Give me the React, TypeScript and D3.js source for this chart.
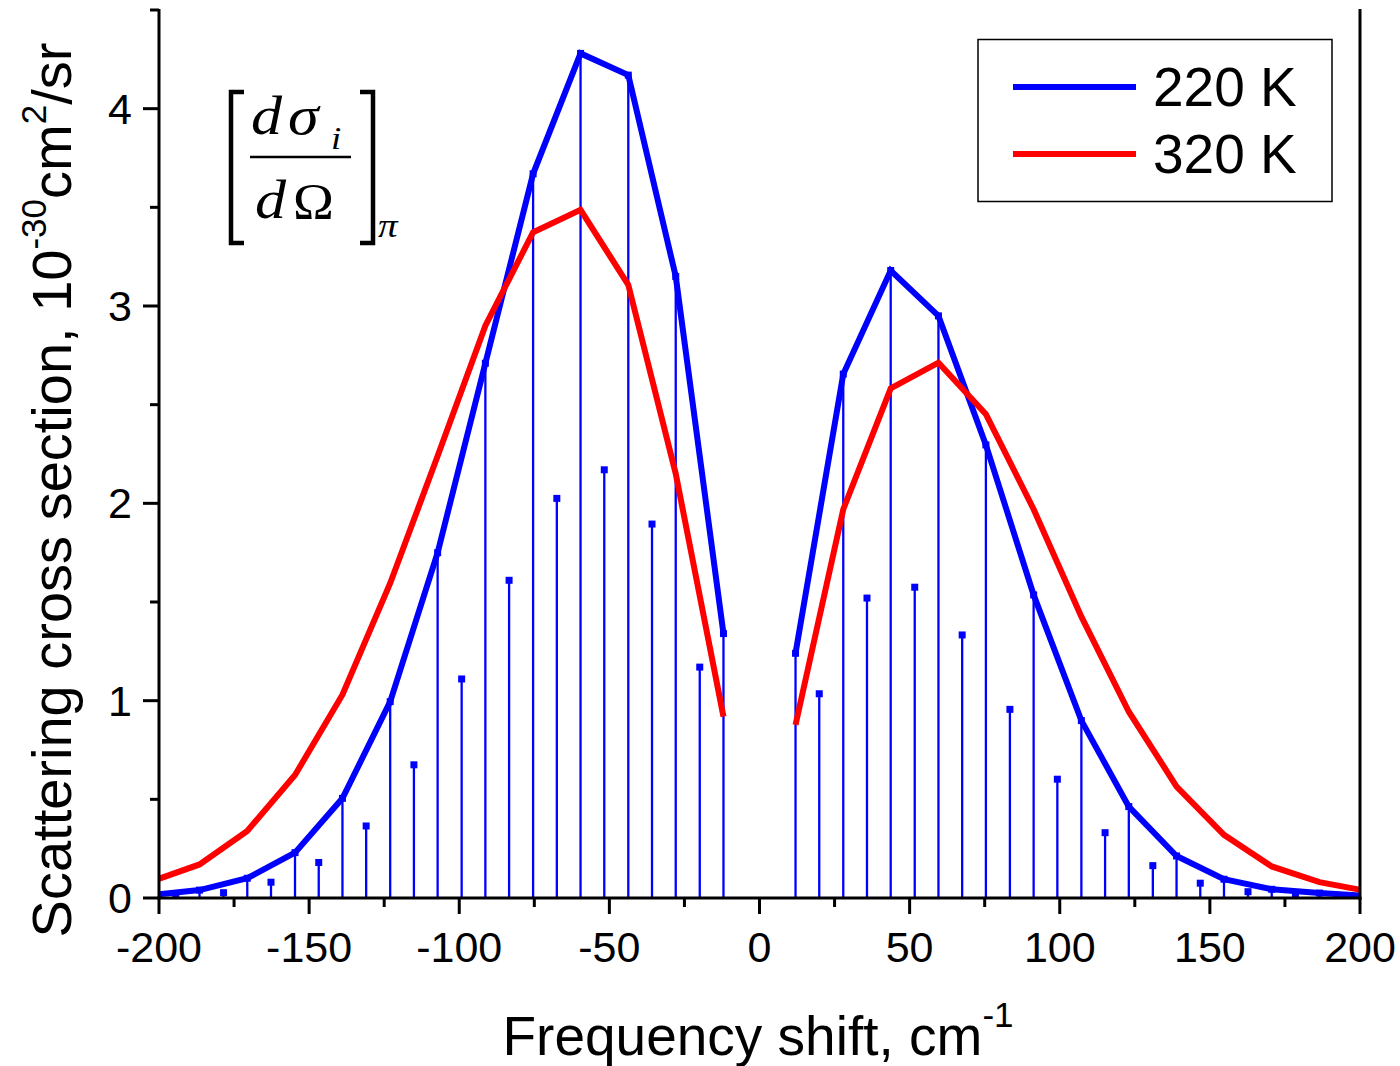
import React from "react";
import * as d3 from "d3";

// ---- data ----
const stickPos = [12.0, 19.9, 27.9, 35.8, 43.7, 51.7, 59.6, 67.5, 75.4, 83.4, 91.3, 99.2, 107.2, 115.1, 123.0, 131.0, 138.9, 146.8, 154.7, 162.7, 170.6, 178.5, 186.5, 194.4];
const stickLeft = [1.34, 1.17, 3.15, 1.895, 4.17, 2.17, 4.28, 2.025, 3.67, 1.61, 2.71, 1.11, 1.75, 0.675, 0.995, 0.365, 0.505, 0.18, 0.23, 0.08, 0.10, 0.027, 0.04, 0.012];
const stickRight = [1.24, 1.035, 2.655, 1.52, 3.18, 1.575, 2.95, 1.333, 2.296, 0.956, 1.536, 0.602, 0.899, 0.331, 0.463, 0.164, 0.213, 0.075, 0.095, 0.032, 0.044, 0.012, 0.025, 0.012];

const linePos = [12.0, 27.9, 43.7, 59.6, 75.4, 91.3, 107.2, 123.0, 138.9, 154.7, 170.6, 186.5, 202.3];
const blueLeft = [1.34, 3.15, 4.17, 4.28, 3.67, 2.71, 1.75, 0.995, 0.505, 0.23, 0.10, 0.04, 0.015];
const blueRight = [1.24, 2.655, 3.18, 2.95, 2.296, 1.536, 0.899, 0.463, 0.213, 0.095, 0.044, 0.025, 0.01];
const redLeft = [0.919, 2.15, 3.107, 3.487, 3.374, 2.90, 2.24, 1.595, 1.03, 0.623, 0.34, 0.17, 0.085];
const redRight = [0.877, 1.97, 2.583, 2.713, 2.452, 1.97, 1.426, 0.944, 0.565, 0.32, 0.16, 0.08, 0.035];

const xMajor = [-200, -150, -100, -50, 0, 50, 100, 150, 200];
const xMinor = [-175, -125, -75, -25, 25, 75, 125, 175];
const yMajor = [0, 1, 2, 3, 4];
const yMinor = [0.5, 1.5, 2.5, 3.5, 4.5];

const legendItems = [
  { label: "220 K", color: "#0000ff" },
  { label: "320 K", color: "#ff0000" },
];

const BLUE = "#0000ff";
const RED = "#ff0000";
const SANS = "'Liberation Sans', Arial, sans-serif";
const SERIF = "'Liberation Serif', 'Times New Roman', serif";

function FText(props: { x: number; y: number; size: number; sx?: number; italic?: boolean; children: React.ReactNode }) {
  return (
    <text
      transform={`translate(${props.x},${props.y}) scale(${props.sx ?? 1.15},1)`}
      fontFamily={SERIF}
      fontSize={props.size}
      fontStyle={props.italic ? "italic" : "normal"}
      fill="#000"
    >
      {props.children}
    </text>
  );
}

export default function App() {
  const W = 1400, H = 1066;
  const x = d3.scaleLinear().domain([-200, 200]).range([159, 1360]);
  const y = d3.scaleLinear().domain([0, 4.5]).range([898, 10]);

  const line = d3.line<[number, number]>().x((d) => x(d[0])).y((d) => y(d[1]));

  const leftPts = (vals: number[]) => linePos.map((p, i) => [-p, vals[i]] as [number, number]);
  const rightPts = (vals: number[]) => linePos.map((p, i) => [p, vals[i]] as [number, number]);

  const sticks: { xv: number; v: number }[] = [];
  stickPos.forEach((p, i) => {
    sticks.push({ xv: -p, v: stickLeft[i] });
    sticks.push({ xv: p, v: stickRight[i] });
  });

  const y0 = y(0);

  return (
    <svg width={W} height={H} style={{ position: "absolute", left: 0, top: 0, background: "#fff" }}>
      <defs>
        <clipPath id="plotClip">
          <rect x={159} y={0} width={1360 - 159} height={898} />
        </clipPath>
      </defs>
      <rect x={0} y={0} width={W} height={H} fill="#fff" />

      <g clipPath="url(#plotClip)">
        {/* sticks */}
        {sticks.map((s, i) => (
          <g key={i}>
            <line x1={x(s.xv)} x2={x(s.xv)} y1={y0} y2={y(s.v)} stroke={BLUE} strokeWidth={2.3} />
            <rect x={x(s.xv) - 3.5} y={y(s.v) - 3.5} width={7} height={7} fill={BLUE} />
          </g>
        ))}
        {/* 220 K */}
        <path d={line(leftPts(blueLeft)) || ""} fill="none" stroke={BLUE} strokeWidth={6} />
        <path d={line(rightPts(blueRight)) || ""} fill="none" stroke={BLUE} strokeWidth={6} />
        {/* 320 K */}
        <path d={line(leftPts(redLeft)) || ""} fill="none" stroke={RED} strokeWidth={6} />
        <path d={line(rightPts(redRight)) || ""} fill="none" stroke={RED} strokeWidth={6} />
      </g>

      {/* axes */}
      <g stroke="#000" strokeWidth={3}>
        <line x1={159} x2={159} y1={9} y2={899.5} />
        <line x1={1360} x2={1360} y1={9} y2={899.5} />
        <line x1={157.5} x2={1361.5} y1={898} y2={898} />
        {xMajor.map((t) => (
          <line key={"xM" + t} x1={x(t)} x2={x(t)} y1={898} y2={914} />
        ))}
        {xMinor.map((t) => (
          <line key={"xm" + t} x1={x(t)} x2={x(t)} y1={898} y2={907} />
        ))}
        {yMajor.map((t) => (
          <line key={"yM" + t} x1={143} x2={159} y1={y(t)} y2={y(t)} />
        ))}
        {yMinor.map((t) => (
          <line key={"ym" + t} x1={150} x2={159} y1={y(t)} y2={y(t)} />
        ))}
      </g>

      {/* tick labels */}
      <g fontFamily={SANS} fontSize={43} fill="#000">
        {xMajor.map((t) => (
          <text key={"xl" + t} x={x(t)} y={962} textAnchor="middle">{t}</text>
        ))}
        {yMajor.map((t) => (
          <text key={"yl" + t} x={132} y={y(t) + 15} textAnchor="end">{t}</text>
        ))}
      </g>

      {/* axis titles */}
      <text x={758} y={1055} fontFamily={SANS} fontSize={55} textAnchor="middle" fill="#000">
        Frequency shift, cm<tspan fontSize={35} dy={-28}>-1</tspan>
      </text>
      <text transform="translate(71,490) rotate(-90)" fontFamily={SANS} fontSize={56} textAnchor="middle" fill="#000">
        Scattering cross section, 10<tspan fontSize={35} dy={-25}>-30</tspan>
        <tspan dy={25}>cm</tspan>
        <tspan fontSize={35} dy={-25}>2</tspan>
        <tspan dy={25}>/sr</tspan>
      </text>

      {/* legend */}
      <rect x={978} y={39.5} width={354} height={162} fill="#fff" stroke="#000" strokeWidth={1.5} />
      {legendItems.map((it, i) => (
        <g key={it.label}>
          <line x1={1013} x2={1136} y1={87 + i * 67} y2={87 + i * 67} stroke={it.color} strokeWidth={6} />
          <text x={1153} y={106 + i * 67} fontFamily={SANS} fontSize={55} fill="#000">{it.label}</text>
        </g>
      ))}

      {/* formula */}
      <g fill="none" stroke="#000" strokeWidth={4.5}>
        <path d="M244,92 L231,92 L231,243 L244,243" />
        <path d="M360,92 L373,92 L373,243 L360,243" />
        <line x1={250} x2={351} y1={157} y2={157} strokeWidth={2.4} />
      </g>
      <FText x={251} y={134} size={54} italic>d</FText>
      <FText x={288} y={134} size={54} italic>σ</FText>
      <FText x={331} y={149} size={32} italic>i</FText>
      <FText x={255} y={218} size={54} italic>d</FText>
      <FText x={293} y={218} size={50} sx={1.1}>Ω</FText>
      <FText x={378} y={237} size={34} italic>π</FText>
    </svg>
  );
}
